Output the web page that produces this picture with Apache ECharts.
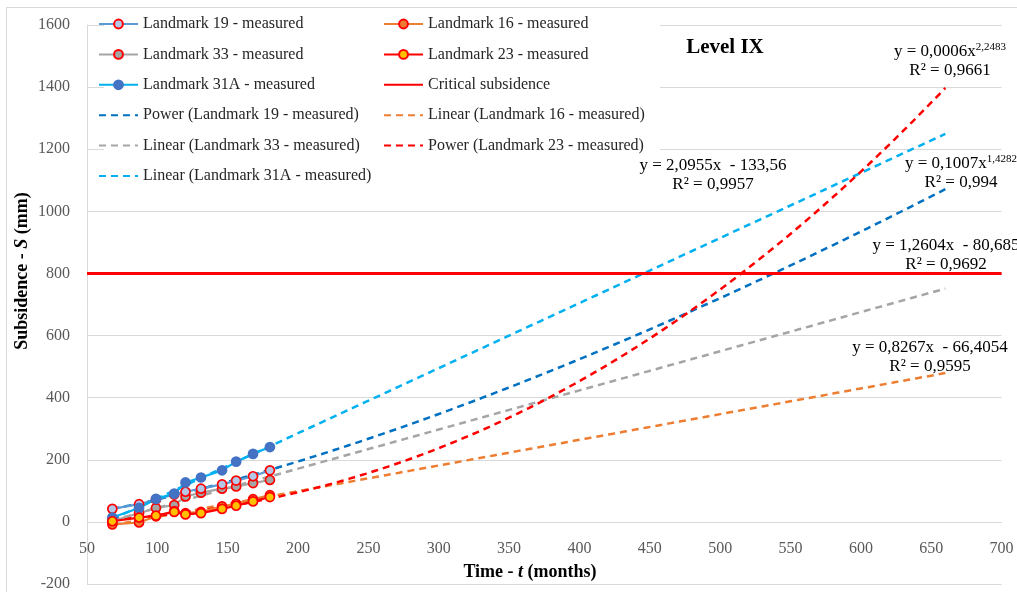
<!DOCTYPE html>
<html>
<head>
<meta charset="utf-8">
<script src="https://cdn.jsdelivr.net/npm/echarts@6/dist/echarts.min.js"></script>
<style>
  html, body { margin: 0; padding: 0; background: #fff; }
  #chart { width: 1017px; height: 592px; }
</style>
</head>
<body>
<div id="chart"></div>
<script>
// Survey epochs (months) and measured subsidence (mm) per landmark
const months      = [68, 87, 99, 112, 120, 131, 146, 156, 168, 180];
const landmark19  = [42, 57, 72, 88, 97, 107, 121, 133, 147, 166];
const landmark33  = [3, 28, 45, 54, 82, 94, 107, 114, 125, 135];
const landmark31A = [14, 45, 74, 91, 127, 143, 166, 194, 219, 241];
const landmark16  = [-8, -2, 18, 35, 28, 32, 50, 58, 73, 86];
const landmark23  = [2, 14, 20, 32, 24, 28, 42, 52, 66, 80];

// Critical subsidence limit (mm)
const criticalLevel = 800;

// Axis ranges / ticks
const xTicks = [50, 700, 50];     // min, max, interval
const yTicks = [-200, 1600, 200]; // min, max, interval

// Trendlines: y = a*x + b (linear) or y = a*x^b (power), forecast to 660 months
const trendNames = ['Power (Landmark 19 - measured)', 'Linear (Landmark 33 - measured)',
                    'Linear (Landmark 31A - measured)', 'Linear (Landmark 16 - measured)',
                    'Power (Landmark 23 - measured)'];
const trendKinds = ['power', 'linear', 'linear', 'linear', 'power'];
const trendA     = [0.1007, 1.2604, 2.0955, 0.8267, 0.00064];
const trendB     = [1.4282, -80.685, -133.56, -66.4054, 2.2483];
const trendR2    = [0.994, 0.9692, 0.9957, 0.9595, 0.9661];
const trendRange = [68, 660];

const SERIF = 'Liberation Serif';

function trendValue(i, x) {
  return trendKinds[i] === 'linear' ? trendA[i] * x + trendB[i] : trendA[i] * Math.pow(x, trendB[i]);
}
function trendData(i) {
  const pts = [];
  for (let x = trendRange[0]; x < trendRange[1]; x += 4) pts.push([x, trendValue(i, x)]);
  pts.push([trendRange[1], trendValue(i, trendRange[1])]);
  return pts;
}
const comma = s => String(s).replace('.', ',');
function equationText(i) {
  const a = comma(trendA[i].toFixed(4));
  const eq = trendKinds[i] === 'linear'
    ? '{t|y = ' + a + 'x  - ' + comma(-trendB[i]) + '}'
    : '{t|y = ' + a + 'x}{s|' + comma(trendB[i]) + '}';
  return eq + '\n{t|R² = ' + comma(trendR2[i]) + '}';
}
const pair = ys => months.map((m, k) => [m, ys[k]]);

const trendColors = ['#0070C0', '#A5A5A5', '#00B0F0', '#ED7D31', '#FF0000'];
const labelColors = ['#2F7FC8', '#7F7F7F', '#1FAEE8', '#E57A36', '#FF2B2B'];
// equation label block centres (px)
const labelPos = [[961, 173], [946, 255], [713, 175], [930, 357], [950, 61]];

const trendSeries = trendNames.map((name, i) => ({
  name, type: 'line', data: trendData(i), showSymbol: false, symbol: 'none',
  lineStyle: { color: trendColors[i], width: 2.5, type: [7, 5] },
  itemStyle: { color: trendColors[i] }, z: 2, silent: true
}));

function measured(name, ys, lineColor, fill) {
  return {
    name, type: 'line', data: pair(ys), symbol: 'circle', symbolSize: 9, showSymbol: true,
    lineStyle: { color: lineColor, width: 2.2 },
    itemStyle: { color: fill, borderColor: fill === '#4472C4' ? '#4472C4' : '#FF0000', borderWidth: 1.7 },
    z: 3
  };
}

const series = [
  ...trendSeries,
  {
    name: 'Critical subsidence', type: 'line', symbol: 'none',
    data: [[xTicks[0], criticalLevel], [xTicks[1], criticalLevel]],
    lineStyle: { color: '#FF0000', width: 3 }, itemStyle: { color: '#FF0000' }, z: 2
  },
  measured('Landmark 33 - measured', landmark33, '#A5A5A5', '#A5A5A5'),
  measured('Landmark 19 - measured', landmark19, '#5B9BD5', '#B4C7E7'),
  measured('Landmark 31A - measured', landmark31A, '#00B0F0', '#4472C4'),
  measured('Landmark 16 - measured', landmark16, '#ED7D31', '#ED7D31'),
  measured('Landmark 23 - measured', landmark23, '#FF0000', '#FFC000')
];

// legend entries drawn as a plain line (no marker)
const lineOnly = name => ({ name, itemStyle: { color: 'rgba(0,0,0,0)', borderColor: 'rgba(0,0,0,0)', borderWidth: 0 } });

const legendCommon = {
  orient: 'vertical', top: 16, itemWidth: 39, itemHeight: 11, itemGap: 14.4, padding: 0,
  textStyle: { fontFamily: SERIF, fontSize: 16, color: '#262626' }, selectedMode: false
};

const eqRich = color => ({
  t: { fontFamily: SERIF, fontSize: 17, color, lineHeight: 19 },
  s: { fontFamily: SERIF, fontSize: 11, color, verticalAlign: 'top', lineHeight: 19 }
});

const boldRich = {
  b: { fontFamily: SERIF, fontSize: 18, fontWeight: 'bold', fill: '#000' },
  i: { fontFamily: SERIF, fontSize: 18, fontWeight: 'bold', fontStyle: 'italic', fill: '#000' }
};

const graphics = [
  // chart frame
  { type: 'rect', z: 0, shape: { x: 6.5, y: 7.5, width: 1100, height: 700 },
    style: { fill: null, stroke: '#D9D9D9', lineWidth: 1 }, silent: true },
  // legend backdrop
  { type: 'rect', z: 1, shape: { x: 104, y: 9, width: 556, height: 183 },
    style: { fill: '#FFFFFF' }, silent: true },
  { type: 'text', z: 5, x: 725, y: 48, style: {
      text: 'Level IX', fontFamily: SERIF, fontSize: 21, fontWeight: 'bold', fill: '#000',
      align: 'center', verticalAlign: 'middle' } },
  { type: 'text', z: 5, x: 530, y: 572, style: {
      text: '{b|Time - }{i|t}{b| (months)}', align: 'center', verticalAlign: 'middle', rich: boldRich } },
  { type: 'text', z: 5, x: 22, y: 271, rotation: Math.PI / 2, style: {
      text: '{b|Subsidence - }{i|S}{b| (mm)}', align: 'center', verticalAlign: 'middle', rich: boldRich } },
  ...trendNames.map((n, i) => ({
    type: 'text', z: 5, x: labelPos[i][0], y: labelPos[i][1],
    style: { text: equationText(i), align: 'center', verticalAlign: 'middle', rich: eqRich(labelColors[i]) }
  }))
];

const GRID_TOP = 25, GRID_BOTTOM = 8, HEIGHT = 592;
// move the x axis from the bottom edge (-200) up to the zero line
const zeroOffset = -(HEIGHT - GRID_TOP - GRID_BOTTOM) * (0 - yTicks[0]) / (yTicks[1] - yTicks[0]);

const chart = echarts.init(document.getElementById('chart'), null, { renderer: 'canvas' });
chart.setOption({
  backgroundColor: '#FFFFFF',
  animation: false,
  grid: { left: 87, right: 15.4, top: GRID_TOP, bottom: GRID_BOTTOM, containLabel: false, outerBoundsMode: 'none' },
  xAxis: {
    type: 'value', min: xTicks[0], max: xTicks[1], interval: xTicks[2],
    position: 'bottom', offset: zeroOffset,
    axisLine: { onZero: false, lineStyle: { color: '#D9D9D9', width: 1 } },
    axisTick: { show: false }, splitLine: { show: false },
    axisLabel: { margin: 19, fontFamily: SERIF, fontSize: 16, color: '#595959', formatter: v => String(v) }
  },
  yAxis: {
    type: 'value', min: yTicks[0], max: yTicks[1], interval: yTicks[2],
    axisLine: { show: true, lineStyle: { color: '#D9D9D9', width: 1 } },
    axisTick: { show: false },
    splitLine: { show: true, lineStyle: { color: '#D9D9D9', width: 1 } },
    axisLabel: { margin: 17, fontFamily: SERIF, fontSize: 16, color: '#595959', formatter: v => String(v) }
  },
  legend: [
    Object.assign({}, legendCommon, { left: 98, data: [
      'Landmark 19 - measured', 'Landmark 33 - measured', 'Landmark 31A - measured',
      lineOnly('Power (Landmark 19 - measured)'), lineOnly('Linear (Landmark 33 - measured)'),
      lineOnly('Linear (Landmark 31A - measured)')] }),
    Object.assign({}, legendCommon, { left: 383, data: [
      'Landmark 16 - measured', 'Landmark 23 - measured', lineOnly('Critical subsidence'),
      lineOnly('Linear (Landmark 16 - measured)'), lineOnly('Power (Landmark 23 - measured)')] })
  ],
  graphic: graphics,
  series
});
</script>
</body>
</html>
